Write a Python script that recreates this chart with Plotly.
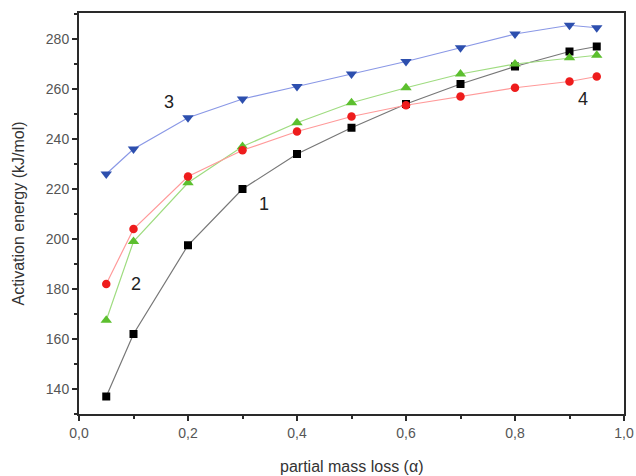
import plotly.graph_objects as go

alpha = [0.05, 0.1, 0.2, 0.3, 0.4, 0.5, 0.6, 0.7, 0.8, 0.9, 0.95]

ea_1 = [137, 162, 197.5, 220, 234, 244.5, 254, 262, 269, 275, 277]
ea_2 = [167.5, 199, 222.5, 237, 246.5, 254.5, 260.5, 266, 270, 272.5, 273.5]
ea_3 = [226, 236, 248.5, 256, 261, 266, 271, 276.5, 282, 285.5, 284.5]
ea_4 = [182, 204, 225, 235.5, 243, 249, 253.5, 257, 260.5, 263, 265]

x_tickvals = [0.0, 0.2, 0.4, 0.6, 0.8, 1.0]
x_ticktext = ["0,0", "0,2", "0,4", "0,6", "0,8", "1,0"]
y_tickvals = [140, 160, 180, 200, 220, 240, 260, 280]

curve_labels = ["1", "2", "3", "4"]
label_x = [0.34, 0.105, 0.165, 0.925]
label_y = [214, 182, 255, 256]

x_title = "partial mass loss (α)"
y_title = "Activation energy (kJ/mol)"

FONT = "Liberation Sans, Arial"

series = [
    (ea_1, "#000000", "#777777", "square", 8),
    (ea_2, "#5cbf2e", "#9fdc80", "triangle-up", 10),
    (ea_3, "#2d4fae", "#8a98e6", "triangle-down", 10),
    (ea_4, "#ee1c1c", "#ff9a9a", "circle", 8.5),
]

fig = go.Figure()
for ys, mcol, lcol, sym, sz in series:
    fig.add_trace(go.Scatter(
        x=alpha, y=ys, mode="lines+markers",
        line=dict(color=lcol, width=1.2),
        marker=dict(symbol=sym, size=sz, color=mcol, line=dict(width=0)),
        showlegend=False,
    ))

for t, lx, ly in zip(curve_labels, label_x, label_y):
    fig.add_annotation(x=lx, y=ly, text=t, showarrow=False,
                       font=dict(family=FONT, size=18, color="#222222"))

# axis titles placed as paper annotations so the plot frame stays fixed
fig.add_annotation(xref="paper", yref="paper", x=0.5, y=0, yanchor="middle",
                   yshift=-52, text=x_title, showarrow=False,
                   font=dict(family=FONT, size=16, color="#333333"))
fig.add_annotation(xref="paper", yref="paper", x=0, y=0.5, xanchor="center",
                   xshift=-61, text=y_title, textangle=-90, showarrow=False,
                   font=dict(family=FONT, size=16, color="#333333"))

axis_common = dict(
    showline=True, linecolor="#2a2a2a", linewidth=2, mirror=True,
    showgrid=False, zeroline=False, ticks="outside", ticklen=5,
    tickwidth=1.5, tickcolor="#2a2a2a", automargin=False,
    tickfont=dict(family=FONT, size=14, color="#555555"),
)

fig.update_xaxes(
    range=[0, 1], tickvals=x_tickvals, ticktext=x_ticktext,
    minor=dict(ticks="outside", ticklen=3, tickwidth=1.5, tickcolor="#2a2a2a", dtick=0.1),
    **axis_common,
)
fig.update_yaxes(
    range=[130, 290.4], tickvals=y_tickvals,
    minor=dict(ticks="outside", ticklen=3, tickwidth=1.5, tickcolor="#2a2a2a", tick0=150, dtick=20),
    **axis_common,
)

fig.update_layout(
    width=636, height=476,
    margin=dict(l=79, r=12, t=13, b=62),
    plot_bgcolor="white", paper_bgcolor="white",
)

fig.write_html("out.html")
